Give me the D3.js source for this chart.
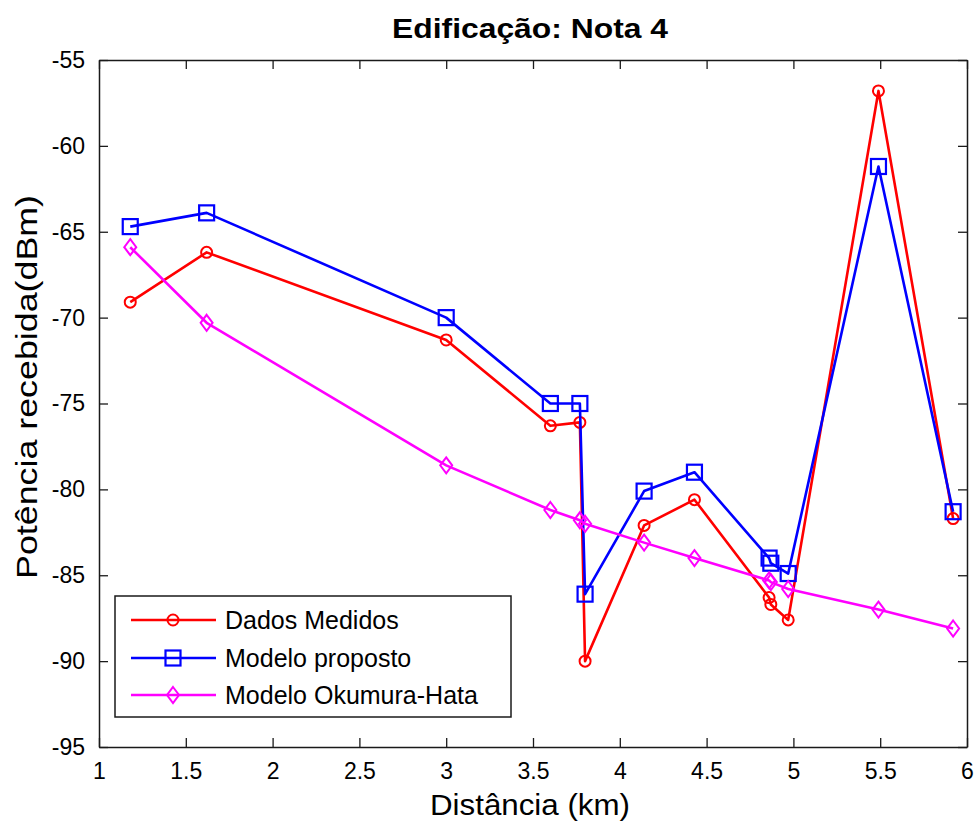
<!DOCTYPE html>
<html>
<head>
<meta charset="utf-8">
<script src="https://cdn.jsdelivr.net/npm/d3@7"></script>
<style>
  html, body { margin: 0; padding: 0; background: #fff; }
  text { font-family: Arial, "Liberation Sans", Helvetica, sans-serif; }
</style>
</head>
<body>
<svg id="chart" width="979" height="824"></svg>
<script>
// Distance of each measurement point (km)
const distances = [1.18, 1.62, 3.00, 3.60, 3.77, 3.80, 4.14, 4.43, 4.86, 4.87, 4.97, 5.49, 5.92];
// Received power (dBm) per series
const dadosMedidos     = [-69.1, -66.2, -71.3, -76.3, -76.1, -90.0, -82.1, -80.6, -86.3, -86.7, -87.6, -56.8, -81.7];
const modeloProposto   = [-64.7, -63.9, -70.0, -75.0, -75.0, -86.1, -80.1, -79.0, -84.0, -84.3, -84.9, -61.2, -81.3];
const modeloOkumura    = [-65.9, -70.3, -78.6, -81.2, -81.8, -82.0, -83.1, -84.0, -85.3, -85.4, -85.8, -87.0, -88.1];
const seriesNames = ["Dados Medidos", "Modelo proposto", "Modelo Okumura-Hata"];
const xTicks = [1, 1.5, 2, 2.5, 3, 3.5, 4, 4.5, 5, 5.5, 6];
const yTicks = [-55, -60, -65, -70, -75, -80, -85, -90, -95];

const series = [
  { name: seriesNames[0], values: dadosMedidos,   color: "#ff0000", marker: "circle" },
  { name: seriesNames[1], values: modeloProposto, color: "#0000ff", marker: "square" },
  { name: seriesNames[2], values: modeloOkumura,  color: "#ff00ff", marker: "diamond" }
];

const svg = d3.select("#chart");
const plot = { left: 99, right: 967, top: 60, bottom: 747 };

const x = d3.scaleLinear().domain([1, 6]).range([plot.left, plot.right]);
const y = d3.scaleLinear().domain([-95, -55]).range([plot.bottom, plot.top]);

const tickLen = 9;
const axisColor = "#1a1a1a";
const plainNumber = d => String(d);   // plain hyphen for negatives

// Axes with inward ticks (bottom/left labelled, top/right mirrored)
const gBottom = svg.append("g").attr("transform", `translate(0,${plot.bottom})`)
  .call(d3.axisBottom(x).tickValues(xTicks).tickFormat(plainNumber).tickSizeInner(-tickLen).tickSizeOuter(0).tickPadding(16));
const gTop = svg.append("g").attr("transform", `translate(0,${plot.top})`)
  .call(d3.axisTop(x).tickValues(xTicks).tickFormat("").tickSizeInner(-tickLen).tickSizeOuter(0));
const gLeft = svg.append("g").attr("transform", `translate(${plot.left},0)`)
  .call(d3.axisLeft(y).tickValues(yTicks).tickFormat(plainNumber).tickSizeInner(-tickLen).tickSizeOuter(0).tickPadding(14));
const gRight = svg.append("g").attr("transform", `translate(${plot.right},0)`)
  .call(d3.axisRight(y).tickValues(yTicks).tickFormat("").tickSizeInner(-tickLen).tickSizeOuter(0));

[gBottom, gTop, gLeft, gRight].forEach(g => {
  g.select(".domain").attr("stroke", axisColor).attr("stroke-width", 1.5);
  g.selectAll(".tick line").attr("stroke", axisColor).attr("stroke-width", 1.3);
  g.selectAll(".tick text").attr("fill", "#000").style("font-size", "23px");
});
gBottom.selectAll(".tick text").attr("dy", "0.71em");

// Line generator
const line = d3.line().x((d, i) => x(distances[i])).y(d => y(d));

function drawMarker(g, type, cx, cy, color) {
  if (type === "circle") {
    g.append("circle").attr("cx", cx).attr("cy", cy).attr("r", 5.5)
      .attr("fill", "none").attr("stroke", color).attr("stroke-width", 2);
  } else if (type === "square") {
    g.append("rect").attr("x", cx - 7.5).attr("y", cy - 7.5).attr("width", 15).attr("height", 15)
      .attr("fill", "none").attr("stroke", color).attr("stroke-width", 2.2);
  } else {
    const w = 6, h = 8;
    g.append("path").attr("d", `M${cx},${cy - h}L${cx + w},${cy}L${cx},${cy + h}L${cx - w},${cy}Z`)
      .attr("fill", "none").attr("stroke", color).attr("stroke-width", 2);
  }
}

series.forEach(s => {
  const g = svg.append("g");
  g.append("path").datum(s.values).attr("d", line)
    .attr("fill", "none").attr("stroke", s.color).attr("stroke-width", 2.6)
    .attr("stroke-linejoin", "round");
  s.values.forEach((v, i) => drawMarker(g, s.marker, x(distances[i]), y(v), s.color));
});

// Legend
const legend = { x: 115, y: 596, w: 396, h: 121 };
svg.append("rect").attr("x", legend.x).attr("y", legend.y).attr("width", legend.w).attr("height", legend.h)
  .attr("fill", "#fff").attr("stroke", axisColor).attr("stroke-width", 1.5);
const rowY = [620, 658, 695];
series.forEach((s, i) => {
  const g = svg.append("g");
  g.append("line").attr("x1", 131).attr("x2", 216).attr("y1", rowY[i]).attr("y2", rowY[i])
    .attr("stroke", s.color).attr("stroke-width", 2.6);
  drawMarker(g, s.marker, 173, rowY[i], s.color);
  g.append("text").attr("x", 225).attr("y", rowY[i]).attr("dy", "0.36em")
    .style("font-size", "25px").attr("fill", "#000").text(s.name);
});

// Title and axis labels
svg.append("text").attr("x", 530).attr("y", 38).attr("text-anchor", "middle")
  .attr("textLength", 276).attr("lengthAdjust", "spacingAndGlyphs")
  .style("font-size", "28px").style("font-weight", "bold").text("Edificação: Nota 4");
svg.append("text").attr("x", 530).attr("y", 815).attr("text-anchor", "middle")
  .attr("textLength", 200).attr("lengthAdjust", "spacingAndGlyphs")
  .style("font-size", "29px").text("Distância (km)");
svg.append("text").attr("transform", `translate(37,387) rotate(-90)`).attr("text-anchor", "middle")
  .attr("textLength", 384).attr("lengthAdjust", "spacingAndGlyphs")
  .style("font-size", "30px").text("Potência recebida(dBm)");
</script>
</body>
</html>
